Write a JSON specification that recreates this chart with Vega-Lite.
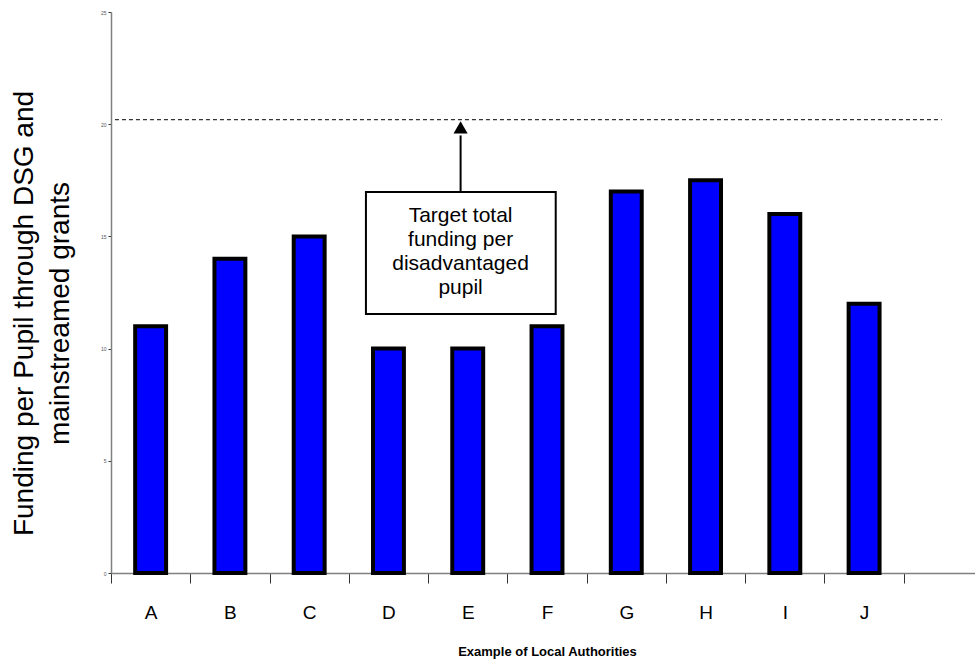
{
  "$schema": "https://vega.github.io/schema/vega-lite/v6.json",
  "autosize": "none",
  "width": 872,
  "height": 561,
  "padding": {"left": 111, "top": 12, "right": 0, "bottom": 86},
  "background": "white",
  "config": {"view": {"stroke": null}, "font": "Liberation Sans"},
  "datasets": {
    "bars": [
      {"authority": "A", "funding": 11},
      {"authority": "B", "funding": 14},
      {"authority": "C", "funding": 15},
      {"authority": "D", "funding": 10},
      {"authority": "E", "funding": 10},
      {"authority": "F", "funding": 11},
      {"authority": "G", "funding": 17},
      {"authority": "H", "funding": 17.5},
      {"authority": "I", "funding": 16},
      {"authority": "J", "funding": 12}
    ],
    "target": [{"start": 0.05, "end": 10.48, "value": 20.2}],
    "note": [{"x1": 3.216, "x2": 5.61, "y1": 11.54, "y2": 16.98, "xc": 4.41, "ytext": 15.92, "arrowTop": 19.5, "headY": 19.86, "label": "Target total\nfunding per\ndisadvantaged\npupil"}]
  },
  "layer": [
    {
      "data": {"name": "bars"},
      "mark": {"type": "bar", "fill": "#0000FF", "stroke": "black", "strokeWidth": 4, "width": {"band": 0.39}},
      "encoding": {
        "x": {
          "field": "authority", "type": "nominal",
          "scale": {"domain": ["A","B","C","D","E","F","G","H","I","J"," "], "paddingInner": 0, "paddingOuter": 0},
          "axis": {
            "title": "Example of Local Authorities", "titleFontSize": 13, "titleFontWeight": "bold", "titleColor": "black", "titlePadding": 23,
            "labelAngle": 0, "labelFontSize": 19, "labelColor": "black", "labelPadding": 20,
            "tickBand": "extent", "tickSize": 10, "tickColor": "#333333", "tickWidth": 1,
            "domainColor": "#808080", "domainWidth": 1.5, "grid": false
          }
        },
        "y": {
          "field": "funding", "type": "quantitative",
          "scale": {"domain": [0, 25], "nice": false},
          "axis": {
            "title": ["Funding per Pupil through DSG and", "mainstreamed grants"],
            "titleFontSize": 28, "titleFontWeight": "normal", "titleColor": "black", "titleLineHeight": 36,
            "titleAngle": -90, "titleBaseline": "alphabetic", "titleAlign": "center", "titleX": -79, "titleY": 301,
            "values": [0, 5, 10, 15, 20, 25], "labelFontSize": 5, "labelColor": "#555555", "labelPadding": 2,
            "tickSize": 3, "tickColor": "#333333", "domainColor": "#808080", "domainWidth": 1.5, "grid": false
          }
        }
      }
    },
    {
      "data": {"name": "target"},
      "mark": {"type": "rule", "stroke": "black", "strokeWidth": 1, "strokeDash": [4, 3]},
      "encoding": {
        "x": {"field": "start", "type": "quantitative", "scale": {"domain": [0, 11], "nice": false, "zero": false}, "axis": null},
        "x2": {"field": "end"},
        "y": {"field": "value", "type": "quantitative"}
      }
    },
    {
      "data": {"name": "note"},
      "mark": {"type": "rule", "stroke": "black", "strokeWidth": 2},
      "encoding": {
        "x": {"field": "xc", "type": "quantitative", "scale": {"domain": [0, 11], "nice": false, "zero": false}, "axis": null},
        "y": {"field": "y2", "type": "quantitative"},
        "y2": {"field": "arrowTop"}
      }
    },
    {
      "data": {"name": "note"},
      "mark": {"type": "point", "shape": "triangle-up", "filled": true, "fill": "black", "stroke": null, "size": 200, "opacity": 1},
      "encoding": {
        "x": {"field": "xc", "type": "quantitative", "scale": {"domain": [0, 11], "nice": false, "zero": false}, "axis": null},
        "y": {"field": "headY", "type": "quantitative"}
      }
    },
    {
      "data": {"name": "note"},
      "mark": {"type": "rect", "fill": "white", "stroke": "black", "strokeWidth": 2},
      "encoding": {
        "x": {"field": "x1", "type": "quantitative", "scale": {"domain": [0, 11], "nice": false, "zero": false}, "axis": null},
        "x2": {"field": "x2"},
        "y": {"field": "y1", "type": "quantitative"},
        "y2": {"field": "y2"}
      }
    },
    {
      "data": {"name": "note"},
      "mark": {"type": "text", "fontSize": 21, "lineBreak": "\n", "lineHeight": 24, "align": "center", "baseline": "middle", "color": "black"},
      "encoding": {
        "x": {"field": "xc", "type": "quantitative", "scale": {"domain": [0, 11], "nice": false, "zero": false}, "axis": null},
        "y": {"field": "ytext", "type": "quantitative"},
        "text": {"field": "label"}
      }
    }
  ],
  "resolve": {"scale": {"x": "independent"}}
}
